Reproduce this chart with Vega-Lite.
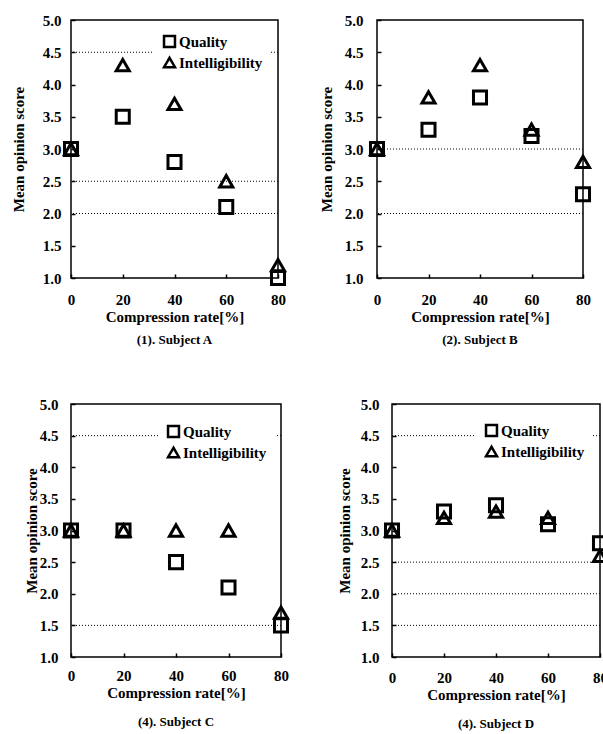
{
  "$schema": "https://vega.github.io/schema/vega-lite/v6.json",
  "background": "white",
  "padding": {"left": 10, "top": 12, "right": 0, "bottom": 5},
  "config": {
    "view": {"stroke": "black", "strokeWidth": 1.5},
    "font": "Liberation Serif",
    "axis": {"labelFont": "Liberation Serif", "labelFontWeight": "bold", "labelFontSize": 15, "labelColor": "black", "titleFont": "Liberation Serif", "titleFontWeight": "bold", "titleFontSize": 15, "titleColor": "black", "grid": false, "domain": false, "ticks": true, "tickSize": -4, "tickColor": "black", "tickWidth": 1.5, "labelOverlap": false, "labelFlush": false, "labelBound": false},
    "axisX": {"labelPadding": 17, "titlePadding": 2},
    "axisY": {"labelPadding": 14, "titlePadding": 10},
    "legend": {"labelFont": "Liberation Serif", "labelFontWeight": "bold", "labelFontSize": 15, "labelColor": "black", "symbolStrokeColor": "black", "symbolStrokeWidth": 2.5, "symbolSize": 120, "fillColor": "white", "padding": 8, "rowPadding": 0, "labelOffset": 2, "orient": "none"},
    "title": {"font": "Liberation Serif", "fontWeight": "bold", "fontSize": 13, "color": "black", "orient": "bottom", "offset": 10}
  },
  "datasets": {
    "pts": [
      {"subject": "A", "measure": "Quality", "rate": 0, "score": 3.0},
      {"subject": "A", "measure": "Quality", "rate": 20, "score": 3.5},
      {"subject": "A", "measure": "Quality", "rate": 40, "score": 2.8},
      {"subject": "A", "measure": "Quality", "rate": 60, "score": 2.1},
      {"subject": "A", "measure": "Quality", "rate": 80, "score": 1.0},
      {"subject": "A", "measure": "Intelligibility", "rate": 0, "score": 3.0},
      {"subject": "A", "measure": "Intelligibility", "rate": 20, "score": 4.3},
      {"subject": "A", "measure": "Intelligibility", "rate": 40, "score": 3.7},
      {"subject": "A", "measure": "Intelligibility", "rate": 60, "score": 2.5},
      {"subject": "A", "measure": "Intelligibility", "rate": 80, "score": 1.2},
      {"subject": "B", "measure": "Quality", "rate": 0, "score": 3.0},
      {"subject": "B", "measure": "Quality", "rate": 20, "score": 3.3},
      {"subject": "B", "measure": "Quality", "rate": 40, "score": 3.8},
      {"subject": "B", "measure": "Quality", "rate": 60, "score": 3.2},
      {"subject": "B", "measure": "Quality", "rate": 80, "score": 2.3},
      {"subject": "B", "measure": "Intelligibility", "rate": 0, "score": 3.0},
      {"subject": "B", "measure": "Intelligibility", "rate": 20, "score": 3.8},
      {"subject": "B", "measure": "Intelligibility", "rate": 40, "score": 4.3},
      {"subject": "B", "measure": "Intelligibility", "rate": 60, "score": 3.3},
      {"subject": "B", "measure": "Intelligibility", "rate": 80, "score": 2.8},
      {"subject": "C", "measure": "Quality", "rate": 0, "score": 3.0},
      {"subject": "C", "measure": "Quality", "rate": 20, "score": 3.0},
      {"subject": "C", "measure": "Quality", "rate": 40, "score": 2.5},
      {"subject": "C", "measure": "Quality", "rate": 60, "score": 2.1},
      {"subject": "C", "measure": "Quality", "rate": 80, "score": 1.5},
      {"subject": "C", "measure": "Intelligibility", "rate": 0, "score": 3.0},
      {"subject": "C", "measure": "Intelligibility", "rate": 20, "score": 3.0},
      {"subject": "C", "measure": "Intelligibility", "rate": 40, "score": 3.0},
      {"subject": "C", "measure": "Intelligibility", "rate": 60, "score": 3.0},
      {"subject": "C", "measure": "Intelligibility", "rate": 80, "score": 1.7},
      {"subject": "D", "measure": "Quality", "rate": 0, "score": 3.0},
      {"subject": "D", "measure": "Quality", "rate": 20, "score": 3.3},
      {"subject": "D", "measure": "Quality", "rate": 40, "score": 3.4},
      {"subject": "D", "measure": "Quality", "rate": 60, "score": 3.1},
      {"subject": "D", "measure": "Quality", "rate": 80, "score": 2.8},
      {"subject": "D", "measure": "Intelligibility", "rate": 0, "score": 3.0},
      {"subject": "D", "measure": "Intelligibility", "rate": 20, "score": 3.2},
      {"subject": "D", "measure": "Intelligibility", "rate": 40, "score": 3.3},
      {"subject": "D", "measure": "Intelligibility", "rate": 60, "score": 3.2},
      {"subject": "D", "measure": "Intelligibility", "rate": 80, "score": 2.6}
    ],
    "grid": [
      {"subject": "A", "level": 4.5},
      {"subject": "A", "level": 2.5},
      {"subject": "A", "level": 2.0},
      {"subject": "B", "level": 3.0},
      {"subject": "B", "level": 2.0},
      {"subject": "C", "level": 4.5},
      {"subject": "C", "level": 1.5},
      {"subject": "D", "level": 4.5},
      {"subject": "D", "level": 2.5},
      {"subject": "D", "level": 2.0},
      {"subject": "D", "level": 1.5}
    ]
  },
  "spacing": 48,
  "align": "none",
  "resolve": {"scale": {"shape": "independent"}, "legend": {"shape": "independent"}},
  "vconcat": [
    {
      "spacing": 26,
      "resolve": {"scale": {"shape": "independent"}, "legend": {"shape": "independent"}},
      "hconcat": [
        {
          "width": 207, "height": 258,
          "title": {"text": "(1). Subject A"},
          "layer": [
            {"data": {"name": "grid"}, "transform": [{"filter": "datum.subject === 'A'"}],
             "mark": {"type": "rule", "strokeDash": [1, 2], "color": "black", "strokeWidth": 1},
             "encoding": {"y": {"field": "level", "type": "quantitative", "scale": {"domain": [1, 5], "nice": false, "zero": false}, "axis": {"values": [1, 1.5, 2, 2.5, 3, 3.5, 4, 4.5, 5], "format": ".1f", "labelPadding": 14, "titlePadding": 16}, "title": "Mean opinion score"}}},
            {"data": {"name": "pts"}, "transform": [{"filter": "datum.subject === 'A'"}],
             "mark": {"type": "point", "filled": false, "color": "black", "strokeWidth": 3, "size": 170, "opacity": 1, "clip": false},
             "encoding": {
               "x": {"field": "rate", "type": "quantitative", "scale": {"domain": [0, 80], "nice": false}, "axis": {"values": [0, 20, 40, 60, 80], "labelPadding": 18}, "title": "Compression rate[%]"},
               "y": {"field": "score", "type": "quantitative", "scale": {"domain": [1, 5], "nice": false, "zero": false}, "axis": {"values": [1, 1.5, 2, 2.5, 3, 3.5, 4, 4.5, 5], "format": ".1f", "labelPadding": 14, "titlePadding": 16}, "title": "Mean opinion score"},
               "shape": {"field": "measure", "type": "nominal", "scale": {"domain": ["Quality", "Intelligibility"], "range": ["square", "triangle-up"]}, "legend": {"orient": "none", "legendX": 83, "legendY": 6, "title": null}}
             }}
          ]
        },
        {
          "width": 206, "height": 258,
          "title": {"text": "(2). Subject B"},
          "layer": [
            {"data": {"name": "grid"}, "transform": [{"filter": "datum.subject === 'B'"}],
             "mark": {"type": "rule", "strokeDash": [1, 2], "color": "black", "strokeWidth": 1},
             "encoding": {"y": {"field": "level", "type": "quantitative", "scale": {"domain": [1, 5], "nice": false, "zero": false}, "axis": {"values": [1, 1.5, 2, 2.5, 3, 3.5, 4, 4.5, 5], "format": ".1f", "labelPadding": 18, "titlePadding": 10}, "title": "Mean opinion score"}}},
            {"data": {"name": "pts"}, "transform": [{"filter": "datum.subject === 'B'"}],
             "mark": {"type": "point", "filled": false, "color": "black", "strokeWidth": 3, "size": 170, "opacity": 1, "clip": false},
             "encoding": {
               "x": {"field": "rate", "type": "quantitative", "scale": {"domain": [0, 80], "nice": false}, "axis": {"values": [0, 20, 40, 60, 80], "labelPadding": 18}, "title": "Compression rate[%]"},
               "y": {"field": "score", "type": "quantitative", "scale": {"domain": [1, 5], "nice": false, "zero": false}, "axis": {"values": [1, 1.5, 2, 2.5, 3, 3.5, 4, 4.5, 5], "format": ".1f", "labelPadding": 18, "titlePadding": 10}, "title": "Mean opinion score"},
               "shape": {"field": "measure", "type": "nominal", "scale": {"domain": ["Quality", "Intelligibility"], "range": ["square", "triangle-up"]}, "legend": null}
             }}
          ]
        }
      ]
    },
    {
      "spacing": 41,
      "resolve": {"scale": {"shape": "independent"}, "legend": {"shape": "independent"}},
      "hconcat": [
        {
          "width": 210, "height": 253,
          "title": {"text": "(4). Subject C", "offset": 16},
          "layer": [
            {"data": {"name": "grid"}, "transform": [{"filter": "datum.subject === 'C'"}],
             "mark": {"type": "rule", "strokeDash": [1, 2], "color": "black", "strokeWidth": 1},
             "encoding": {"y": {"field": "level", "type": "quantitative", "scale": {"domain": [1, 5], "nice": false, "zero": false}, "axis": {"values": [1, 1.5, 2, 2.5, 3, 3.5, 4, 4.5, 5], "format": ".1f", "labelPadding": 17, "titlePadding": 0}, "title": "Mean opinion score"}}},
            {"data": {"name": "pts"}, "transform": [{"filter": "datum.subject === 'C'"}],
             "mark": {"type": "point", "filled": false, "color": "black", "strokeWidth": 3, "size": 170, "opacity": 1, "clip": false},
             "encoding": {
               "x": {"field": "rate", "type": "quantitative", "scale": {"domain": [0, 80], "nice": false}, "axis": {"values": [0, 20, 40, 60, 80], "labelPadding": 15}, "title": "Compression rate[%]"},
               "y": {"field": "score", "type": "quantitative", "scale": {"domain": [1, 5], "nice": false, "zero": false}, "axis": {"values": [1, 1.5, 2, 2.5, 3, 3.5, 4, 4.5, 5], "format": ".1f", "labelPadding": 17, "titlePadding": 0}, "title": "Mean opinion score"},
               "shape": {"field": "measure", "type": "nominal", "scale": {"domain": ["Quality", "Intelligibility"], "range": ["square", "triangle-up"]}, "legend": {"orient": "none", "legendX": 87, "legendY": 12, "title": null}}
             }}
          ]
        },
        {
          "width": 208, "height": 253,
          "title": {"text": "(4). Subject D", "offset": 16},
          "layer": [
            {"data": {"name": "grid"}, "transform": [{"filter": "datum.subject === 'D'"}],
             "mark": {"type": "rule", "strokeDash": [1, 2], "color": "black", "strokeWidth": 1},
             "encoding": {"y": {"field": "level", "type": "quantitative", "scale": {"domain": [1, 5], "nice": false, "zero": false}, "axis": {"values": [1, 1.5, 2, 2.5, 3, 3.5, 4, 4.5, 5], "format": ".1f", "labelPadding": 17, "titlePadding": 8}, "title": "Mean opinion score"}}},
            {"data": {"name": "pts"}, "transform": [{"filter": "datum.subject === 'D'"}],
             "mark": {"type": "point", "filled": false, "color": "black", "strokeWidth": 3, "size": 170, "opacity": 1, "clip": false},
             "encoding": {
               "x": {"field": "rate", "type": "quantitative", "scale": {"domain": [0, 80], "nice": false}, "axis": {"values": [0, 20, 40, 60, 80], "labelPadding": 17}, "title": "Compression rate[%]"},
               "y": {"field": "score", "type": "quantitative", "scale": {"domain": [1, 5], "nice": false, "zero": false}, "axis": {"values": [1, 1.5, 2, 2.5, 3, 3.5, 4, 4.5, 5], "format": ".1f", "labelPadding": 17, "titlePadding": 8}, "title": "Mean opinion score"},
               "shape": {"field": "measure", "type": "nominal", "scale": {"domain": ["Quality", "Intelligibility"], "range": ["square", "triangle-up"]}, "legend": {"orient": "none", "legendX": 84, "legendY": 11, "title": null}}
             }}
          ]
        }
      ]
    }
  ]
}
